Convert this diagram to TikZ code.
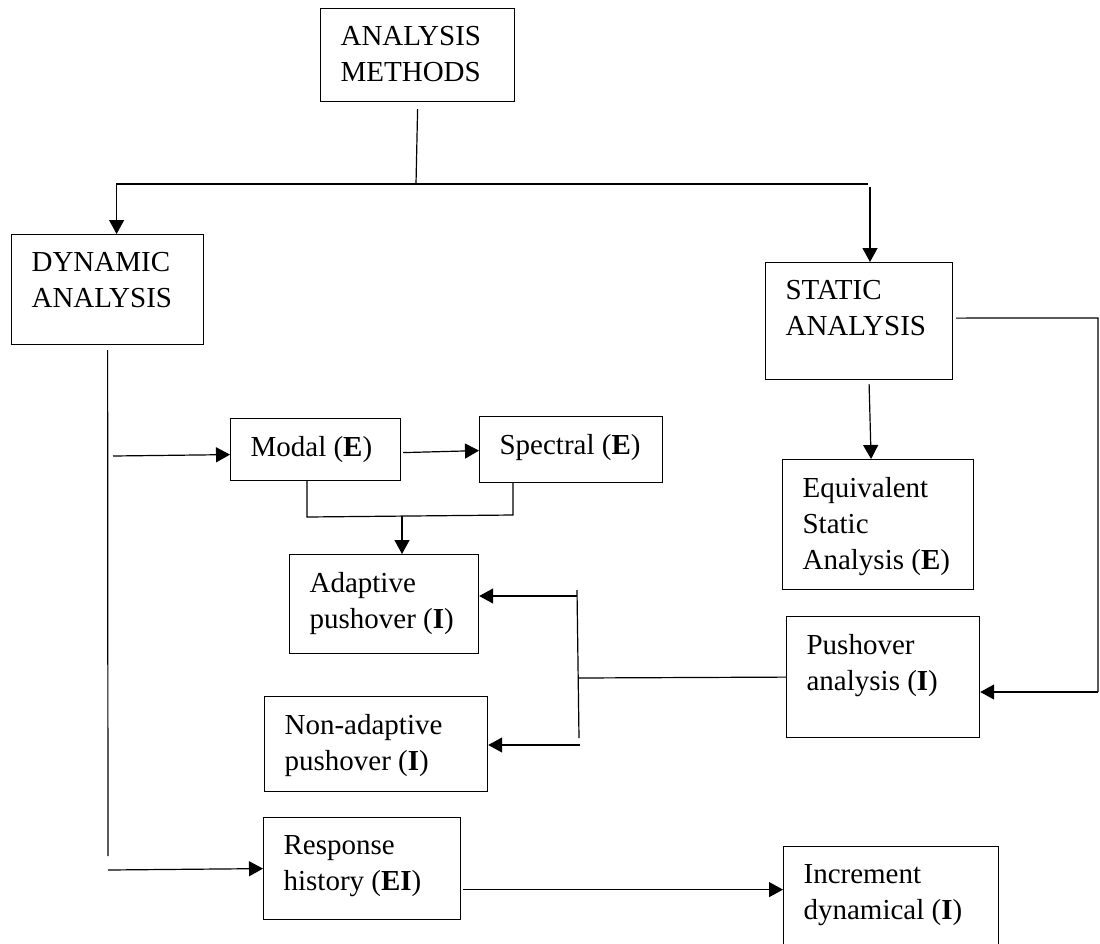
\documentclass[tikz,border=0pt]{standalone}
\usepackage{fontspec}
\setmainfont{Liberation Serif}
\usetikzlibrary{arrows.meta,positioning,calc}
\tikzset{>={Triangle[length=14pt,width=15pt]}}
\tikzset{
  box/.style={draw,anchor=north west,inner sep=0pt},
  txt/.style={anchor=north west,align=left,inner sep=0pt,xshift=20pt,yshift=-18pt,font=\fontsize{29}{36}\selectfont}
}

\begin{document}
\begin{tikzpicture}[x=1pt,y=-1pt,line width=1.2pt]
    \path [use as bounding box] (0,0) rectangle (1100,943);
    \clip (0,0) rectangle (1100,943);
    \node [box,minimum width=194,minimum height=93,label={[txt]north west:ANALYSIS\\METHODS}] (am) at (320,8) {};
    \node [box,minimum width=192,minimum height=110,label={[txt]north west:DYNAMIC\\ANALYSIS}] (dyn) at (11,234) {};
    \node [box,minimum width=187,minimum height=117,label={[txt]north west:STATIC\\ANALYSIS}] (stat) at (765,262) {};
    \node [box,minimum width=170,minimum height=62,label={[txt]north west:Modal (\textbf{E})}] (modal) at (230,418) {};
    \node [box,minimum width=183,minimum height=66,label={[txt]north west:Spectral (\textbf{E})}] (spec) at (479,416) {};
    \node [box,minimum width=189,minimum height=99,label={[txt]north west:Adaptive\\pushover (\textbf{I})}] (adap) at (289,554) {};
    \node [box,minimum width=223,minimum height=95,label={[txt]north west:Non-adaptive\\pushover (\textbf{I})}] (nonad) at (264,696) {};
    \node [box,minimum width=191,minimum height=130,label={[txt]north west:Equivalent\\Static\\Analysis (\textbf{E})}] (equ) at (782,459) {};
    \node [box,minimum width=193,minimum height=121,label={[txt]north west:Pushover\\analysis (\textbf{I})}] (push) at (786,616) {};
    \node [box,minimum width=197,minimum height=102,label={[txt]north west:Response\\history (\textbf{EI})}] (resp) at (263,817) {};
    \node [box,minimum width=215,minimum height=140,label={[txt]north west:Increment\\dynamical (\textbf{I})}] (inc) at (783,846) {};

    \coordinate (split) at (416,184);
    \coordinate (sr) at (868,184);
    \draw ([yshift=-7pt]am.south) -- (split);
    \draw [->] (split) -| ([xshift=9pt]dyn.north);
    \draw (split) -- (sr);
    \draw [->] ([xshift=2pt,yshift=-3pt]sr) -- ([xshift=2pt]sr |- stat.north);

    \coordinate (rt) at (1098,318);
    \coordinate (rb) at (1098,692);
    \draw ([xshift=3pt,yshift=3pt]stat.east) -- (rt) -- (rb);
    \draw [->] (rb) -- (rb -| push.east);
    \draw [->] ([xshift=10pt,yshift=-4pt]stat.south) -- ([xshift=-7pt]equ.north);

    \coordinate (pj) at (578,678);
    \coordinate (pt) at (577,590);
    \coordinate (pb) at (579,738);
    \coordinate (pa) at (577,596);
    \coordinate (pn) at (580,745);
    \draw (push.west) -- (pj);
    \draw (pt) -- (pb);
    \draw [->] (pa) -- (pa -| adap.east);
    \draw [->] (pn) -- (pn -| nonad.east);

    \coordinate (db) at (108,856);
    \coordinate (dm) at (113,456);
    \coordinate (dr) at (108,870);
    \draw ([yshift=-5pt]dyn.south) -- (db);
    \draw [->] (dm) -- ([yshift=-5pt]modal.west);
    \draw [->] (dr) -- (resp.west);

    \draw [->] ([xshift=2pt,yshift=-3pt]modal.east) -- ([yshift=-1pt]spec.west);
    \coordinate (mj) at (307,517);
    \coordinate (sj) at (513,515);
    \coordinate (aj) at (402,516);
    \draw (modal.south -| mj) -- (mj) -- (sj) -- (spec.south -| sj);
    \draw [->] (aj) -- (aj |- adap.north);

    \draw [->] ([xshift=2pt,yshift=-21pt]resp.east) -- ([yshift=-21pt]resp.east -| inc.west);
\end{tikzpicture}
\end{document}
